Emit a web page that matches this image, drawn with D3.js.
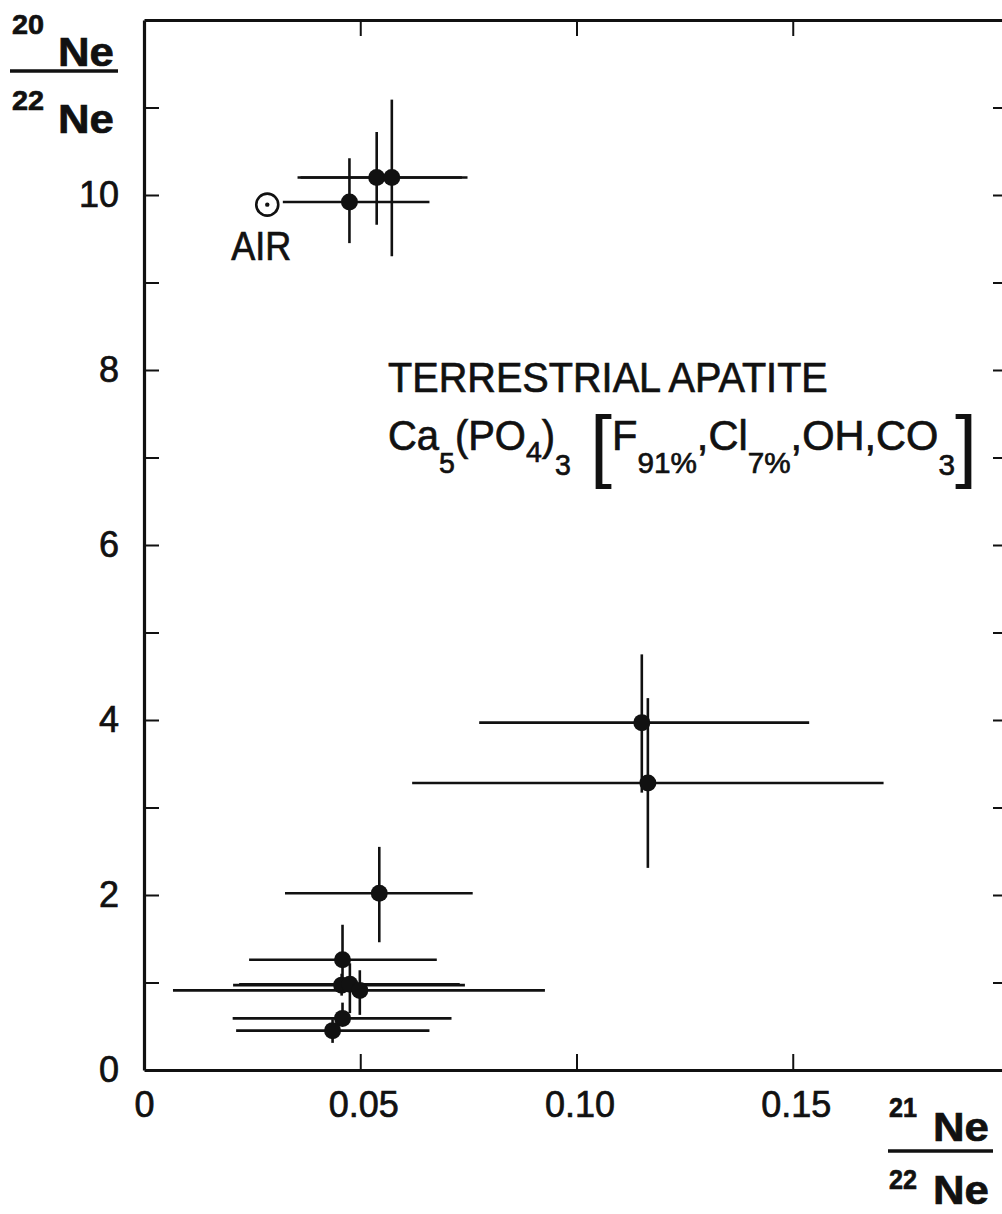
<!DOCTYPE html>
<html>
<head>
<meta charset="utf-8">
<script src="https://cdn.jsdelivr.net/npm/d3@7"></script>
<style>
  body { margin: 0; background: #fff; }
  svg { display: block; }
  text { font-family: "Liberation Sans", Arial, sans-serif; fill: #111; stroke: #111; stroke-width: 0.7; }
</style>
</head>
<body>
<div id="chart"></div>
<script>
// 21Ne/22Ne (x) and 20Ne/22Ne (y) for the apatite samples, with error bar ends
var ne21   = [0.0475, 0.0538, 0.0573, 0.0544, 0.0459, 0.0457, 0.0476, 0.0499, 0.0459, 0.0436, 0.1151, 0.1165];
var ne20   = [9.92,   10.20,  10.20,  2.02,   1.26,   0.97,   0.98,   0.91,   0.59,   0.45,   3.97,   3.28];
var ne21Lo = [0.0321, 0.0355, 0.0362, 0.0326, 0.0243, 0.0206, 0.0220, 0.0067, 0.0205, 0.0213, 0.0775, 0.0620];
var ne21Hi = [0.0660, 0.0735, 0.0748, 0.0760, 0.0677, 0.0742, 0.0730, 0.0927, 0.0711, 0.0660, 0.1538, 0.1710];
var ne20Lo = [9.45,   9.66,   9.30,   1.46,   0.95,   0.85,   0.65,   0.63,   0.52,   0.31,   3.17,   2.31];
var ne20Hi = [10.42,  10.72,  11.09,  2.55,   1.66,   1.10,   1.22,   1.14,   0.77,   0.58,   4.75,   4.25];

// atmospheric neon
var airX = [0.0285];
var airY = [9.89];

var xTicks = [0, 0.05, 0.10, 0.15];
var xTickLabels = ["0", "0.05", "0.10", "0.15"];
var yTicks = [1, 2, 3, 4, 5, 6, 7, 8, 9, 10, 11];
var yLabelTicks = [0, 2, 4, 6, 8, 10];

var width = 1002, height = 1214;

var x = d3.scaleLinear().domain([0, 0.20]).range([144, 1009]);
var y = d3.scaleLinear().domain([0, 12]).range([1070, 20]);

var svg = d3.select("#chart").append("svg")
  .attr("width", width)
  .attr("height", height);

svg.append("rect").attr("width", width).attr("height", height).attr("fill", "#fff");

// squeeze a text horizontally around its x so it covers a given width
function fit(sel, w) {
  var px = +sel.attr("x");
  var bw = sel.node().getBBox().width;
  var s = w / bw;
  sel.attr("transform", "translate(" + px + ",0) scale(" + s + ",1) translate(" + (-px) + ",0)");
}

// frame with inward ticks on all four sides
var frame = svg.append("g");

frame.append("g")
  .attr("transform", "translate(0," + y(0) + ")")
  .call(d3.axisTop(x).tickValues(xTicks.slice(1)).tickSize(16).tickSizeOuter(0).tickFormat(""));
frame.append("g")
  .attr("transform", "translate(0," + y(12) + ")")
  .call(d3.axisBottom(x).tickValues(xTicks.slice(1)).tickSize(16).tickSizeOuter(0).tickFormat(""));
frame.append("g")
  .attr("transform", "translate(" + x(0) + ",0)")
  .call(d3.axisRight(y).tickValues(yTicks).tickSize(15).tickSizeOuter(0).tickFormat(""));
frame.append("g")
  .attr("transform", "translate(" + x(0.20) + ",0)")
  .call(d3.axisLeft(y).tickValues(yTicks).tickSize(16).tickSizeOuter(0).tickFormat(""));

frame.selectAll(".domain").attr("stroke", "#111").attr("stroke-width", 3.2);
frame.selectAll(".tick line").attr("stroke", "#111").attr("stroke-width", 2);

// tick labels
var xLab = svg.append("g")
  .attr("transform", "translate(0," + y(0) + ")")
  .call(d3.axisBottom(x).tickValues(xTicks).tickSize(0).tickPadding(21)
    .tickFormat(function(d, i) { return xTickLabels[i]; }));
xLab.select(".domain").remove();
xLab.selectAll("text").attr("font-size", 36).attr("fill", "#111")
  .style("font-family", '"Liberation Sans", Arial, sans-serif');
xLab.selectAll(".tick text").attr("dx", function(d) { return d === 0 ? 0 : 3; });

var yLab = svg.append("g")
  .attr("transform", "translate(" + x(0) + ",0)")
  .call(d3.axisLeft(y).tickValues(yLabelTicks).tickSize(0).tickPadding(25));
yLab.select(".domain").remove();
yLab.selectAll("text").attr("font-size", 36).attr("fill", "#111")
  .style("font-family", '"Liberation Sans", Arial, sans-serif');

// error bars
var idx = d3.range(ne21.length);
var bars = svg.append("g").attr("stroke", "#111").attr("stroke-width", 2.6);

bars.selectAll("line.h")
  .data(idx)
  .enter()
  .append("line")
  .attr("class", "h")
  .attr("x1", function(i) { return x(ne21Lo[i]); })
  .attr("x2", function(i) { return x(ne21Hi[i]); })
  .attr("y1", function(i) { return y(ne20[i]); })
  .attr("y2", function(i) { return y(ne20[i]); });

bars.selectAll("line.v")
  .data(idx)
  .enter()
  .append("line")
  .attr("class", "v")
  .attr("x1", function(i) { return x(ne21[i]); })
  .attr("x2", function(i) { return x(ne21[i]); })
  .attr("y1", function(i) { return y(ne20Lo[i]); })
  .attr("y2", function(i) { return y(ne20Hi[i]); });

svg.append("g").selectAll("circle")
  .data(idx)
  .enter()
  .append("circle")
  .attr("cx", function(i) { return x(ne21[i]); })
  .attr("cy", function(i) { return y(ne20[i]); })
  .attr("r", 8.5)
  .attr("fill", "#111");

// air point
svg.append("circle")
  .attr("cx", x(airX[0])).attr("cy", y(airY[0])).attr("r", 11)
  .attr("fill", "#fff").attr("stroke", "#111").attr("stroke-width", 2.6);
svg.append("circle")
  .attr("cx", x(airX[0])).attr("cy", y(airY[0])).attr("r", 2.2)
  .attr("fill", "#111");
var air = svg.append("text")
  .attr("x", x(airX[0]) - 6).attr("y", 260)
  .attr("text-anchor", "middle").attr("font-size", 40)
  .text("AIR");
fit(air, 60);

// axis titles
function ratioLabel(g, xs, ys, top, sup, w) {
  var a = g.append("text").attr("x", xs[0]).attr("y", ys[0]).attr("font-size", 28).attr("font-weight", "bold").text(sup[0]);
  fit(a, w[0]);
  var b = g.append("text").attr("x", xs[1]).attr("y", ys[1]).attr("font-size", 41).attr("font-weight", "bold").text("Ne");
  fit(b, w[1]);
  g.append("line").attr("x1", top[0]).attr("x2", top[1]).attr("y1", top[2]).attr("y2", top[2])
    .attr("stroke", "#111").attr("stroke-width", 3.6);
  var c = g.append("text").attr("x", xs[0]).attr("y", ys[2]).attr("font-size", 28).attr("font-weight", "bold").text(sup[1]);
  fit(c, w[0]);
  var d = g.append("text").attr("x", xs[1]).attr("y", ys[3]).attr("font-size", 41).attr("font-weight", "bold").text("Ne");
  fit(d, w[1]);
}
ratioLabel(svg.append("g"), [12, 58], [34, 66, 110, 133], [10, 118, 71], ["20", "22"], [32, 56]);
ratioLabel(svg.append("g"), [889, 933], [1117, 1141, 1189, 1204], [888, 993, 1151], ["21", "22"], [28, 56]);

// annotation
var t1 = svg.append("text").attr("x", 388).attr("y", 392).attr("font-size", 42).text("TERRESTRIAL  APATITE");
fit(t1, 440);

function formula(xp, yp, parts, w) {
  var t = svg.append("text").attr("x", xp).attr("y", yp).attr("font-size", 42);
  var prev = 0;
  parts.forEach(function(p) {
    t.append("tspan")
      .attr("dy", p[1] - prev)
      .attr("font-size", p[1] === 0 ? 42 : 30)
      .text(p[0]);
    prev = p[1];
  });
  fit(t, w);
}
formula(388, 450, [["Ca", 0], ["5", 23], ["(PO", 0], ["4", 12], [")", 0], ["3", 25]], 183);
formula(612, 450, [["F", 0], ["91%", 23], [",Cl", 0], ["7%", 23], [",OH,CO", 0], ["3", 25]], 343);

var lb = svg.append("text").attr("x", 590).attr("y", 472).attr("font-size", 80).style("stroke-width", 0).text("[");
fit(lb, 22);
var rb = svg.append("text").attr("x", 955).attr("y", 472).attr("font-size", 80).style("stroke-width", 0).text("]");
fit(rb, 22);
</script>
</body>
</html>
